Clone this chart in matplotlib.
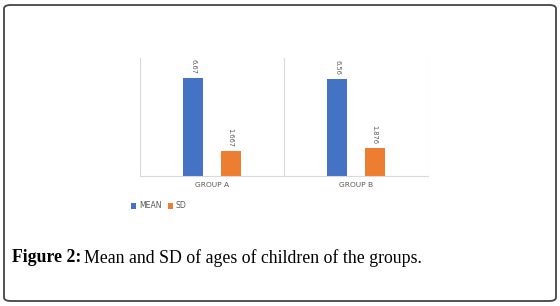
import numpy as np
import matplotlib.pyplot as plt
from matplotlib.patches import FancyBboxPatch

groups = ["GROUP A", "GROUP B"]
mean_vals = [6.67, 6.56]
sd_vals = [1.667, 1.876]
mean_labels = ["6.67", "6.56"]
sd_labels = ["1.667", "1.876"]

BLUE = "#4472C4"
ORANGE = "#ED7D31"
GRAY_TXT = "#595959"
GRID = "#d9d9d9"

fig = plt.figure(figsize=(5.6, 3.06), dpi=100)

# outer rounded frame
frame = FancyBboxPatch((4 / 560, 5 / 306), 552 / 560, 296 / 306,
                       boxstyle="round,pad=0,rounding_size=0.012",
                       transform=fig.transFigure, fill=False,
                       edgecolor="#444444", linewidth=1.3)
fig.patches.append(frame)

ax = fig.add_axes([140 / 560, 130 / 306, 288 / 560, 118 / 306])
x = np.arange(len(groups))
w = 0.138
b1 = ax.bar(x - 0.13, mean_vals, w, color=BLUE, label="MEAN")
b2 = ax.bar(x + 0.13, sd_vals, w, color=ORANGE, label="SD")

ax.bar_label(b1, labels=mean_labels, rotation=270, padding=3,
             fontsize=4.8, color=GRAY_TXT)
ax.bar_label(b2, labels=sd_labels, rotation=270, padding=3,
             fontsize=4.8, color=GRAY_TXT)

ax.set_xlim(-0.5, 1.5)
ax.set_ylim(0, 8)
for xv in [-0.5, 0.5, 1.5]:
    ax.axvline(xv, color=GRID, linewidth=0.8, zorder=0)
for s in ["top", "left", "right"]:
    ax.spines[s].set_visible(False)
ax.spines["bottom"].set_color(GRID)
ax.spines["bottom"].set_linewidth(0.8)
ax.set_yticks([])
ax.set_xticks(x)
ax.set_xticklabels(groups, fontsize=5.4, color=GRAY_TXT)
ax.tick_params(axis="x", length=0, pad=4)

fig.legend(handles=[b1, b2], loc="center left",
           bbox_to_anchor=(124 / 560, 1 - 206 / 306), ncol=2, frameon=False,
           fontsize=5.6, labelcolor=GRAY_TXT, handlelength=0.7,
           handleheight=0.7, handletextpad=0.3, columnspacing=0.8)

# caption: bold label followed by regular text
cap_y = 1 - 258 / 306
t1 = fig.text(12 / 560, cap_y, "Figure 2:", fontsize=12.8,
              family="Liberation Serif", weight="bold", va="center")
fig.canvas.draw()
bb = t1.get_window_extent()
x2 = (bb.x1 + 3) / fig.bbox.width
fig.text(x2, cap_y, "Mean and SD of ages of children of the groups.",
         fontsize=12.8, family="Liberation Serif", va="center")

fig.savefig("out.png", dpi=100)
